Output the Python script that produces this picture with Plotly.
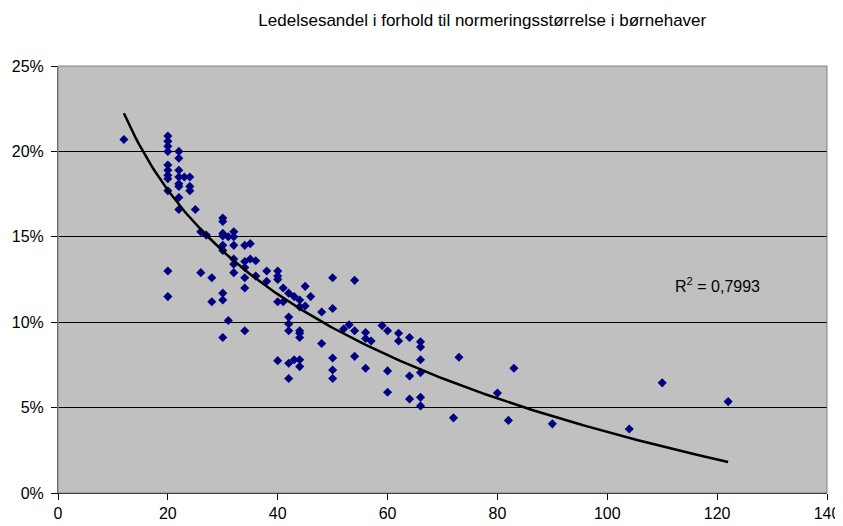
import numpy as np
import plotly.graph_objects as go

# normeringsstørrelse (x) og ledelsesandel i % (y)
normering = [12,
             20, 20, 20, 20, 20, 20, 20, 20, 20, 20, 20,
             22, 22, 22, 22, 22, 22, 22, 22,
             23, 24, 24, 24, 25, 26, 26, 27, 28, 28,
             30, 30, 30, 30, 30, 30, 30, 30, 30,
             31, 31,
             32, 32, 32, 32, 32, 32,
             34, 34, 34, 34, 34, 34,
             35, 35, 36, 36, 38, 38,
             40, 40, 40, 40, 40,
             41, 41,
             42, 42, 42, 42, 42, 42,
             43, 43,
             44, 44, 44, 44, 44, 44, 44,
             45, 45, 46, 48, 48,
             50, 50, 50, 50, 50,
             52, 53, 54, 54, 54,
             56, 56, 56, 57, 59,
             60, 60, 60, 62, 62,
             64, 64, 64,
             66, 66, 66, 66, 66, 66,
             72, 73, 80, 82, 83, 90, 104, 110, 122]
ledelse = [20.7,
           20.9, 20.6, 20.3, 20.0, 19.2, 18.9, 18.6, 18.4, 17.7, 13.0, 11.5,
           20.0, 19.6, 18.9, 18.5, 18.1, 17.95, 17.3, 16.6,
           18.5, 18.5, 17.95, 17.7, 16.6, 15.3, 12.9, 15.1, 12.6, 11.2,
           16.1, 15.9, 15.2, 15.05, 14.5, 14.2, 11.7, 11.3, 9.1,
           15.0, 10.1,
           15.3, 15.0, 14.5, 13.7, 13.4, 12.9,
           14.5, 13.55, 13.2, 12.6, 12.0, 9.5,
           14.6, 13.7, 13.6, 12.7, 13.0, 12.4,
           13.0, 12.7, 12.5, 11.2, 7.75,
           12.0, 11.2,
           11.7, 10.3, 9.9, 9.5, 7.6, 6.7,
           11.5, 7.8,
           11.3, 10.9, 9.5, 9.35, 9.1, 7.8, 7.4,
           12.1, 10.95, 11.5, 10.6, 8.75,
           12.6, 10.8, 7.9, 7.2, 6.7,
           9.6, 9.85, 12.45, 9.5, 8.0,
           9.4, 9.05, 7.3, 8.9, 9.8,
           9.5, 7.15, 5.9, 9.35, 8.9,
           9.1, 6.85, 5.5,
           8.85, 8.55, 7.8, 7.05, 5.6, 5.1,
           4.4, 7.95, 5.85, 4.25, 7.3, 4.05, 3.75, 6.45, 5.35]

r2_tekst = 'R<sup>2</sup> = 0,7993'

# logaritmisk tendenslinje (som i Excel)
x = np.array(normering, dtype=float)
y = np.array(ledelse, dtype=float)
b, a = np.polyfit(np.log(x), y, 1)
xt = np.linspace(x.min(), x.max(), 200)
yt = a + b * np.log(xt)

fig = go.Figure()

fig.add_trace(go.Scatter(x=normering, y=ledelse, mode='markers',
                         marker=dict(symbol='diamond', size=7, color='#000080'),
                         showlegend=False))
fig.add_trace(go.Scatter(x=xt, y=yt, mode='lines',
                         line=dict(color='black', width=2.5),
                         showlegend=False))

fig.add_annotation(x=120, y=12.2, text=r2_tekst, showarrow=False,
                   font=dict(size=16, color='black'))

# ramme om plotområdet
fig.add_shape(type='rect', xref='paper', yref='paper', x0=0, x1=1, y0=0, y1=1,
              line=dict(color='#808080', width=1))

# siden har 8 px body-margen, derfor lidt mindre figur
fig.update_layout(
    width=835, height=518,
    title=dict(text='Ledelsesandel i forhold til normeringsstørrelse i børnehaver',
               x=0.568, xanchor='center', xref='container',
               y=0.977, yanchor='middle', yref='container',
               font=dict(size=17, color='black')),
    font=dict(family='Liberation Sans, Arial, sans-serif', size=16, color='black'),
    paper_bgcolor='white', plot_bgcolor='#C0C0C0',
    margin=dict(l=50, r=16, t=58, b=33, autoexpand=False),
    xaxis=dict(range=[0, 140], dtick=20, showgrid=False, zeroline=False,
               showline=True, linecolor='black', linewidth=1,
               ticks='outside', ticklen=6, tickcolor='black', automargin=False,
               ticklabeloverflow='allow'),
    yaxis=dict(range=[0, 25], dtick=5, ticksuffix='%', showgrid=True,
               gridcolor='black', gridwidth=1, zeroline=False,
               showline=True, linecolor='#606060', linewidth=1,
               ticks='outside', ticklen=6, tickcolor='black',
               ticklabelstandoff=4, automargin=False),
)

fig.write_html("out.html")
